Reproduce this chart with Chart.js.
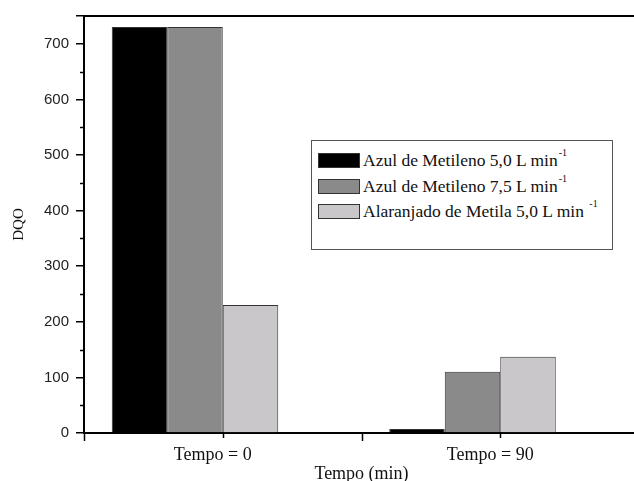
<!DOCTYPE html>
<html>
<head>
<meta charset="utf-8">
<script src="https://cdn.jsdelivr.net/npm/chart.js@4/dist/chart.umd.min.js"></script>
<style>
  html, body { margin: 0; padding: 0; background: #fff; overflow: hidden; }
  #wrap { position: relative; width: 634px; height: 481px; }
  #legend {
    position: absolute; left: 311px; top: 140px; width: 302px; height: 110px;
    border: 1px solid #555; box-sizing: border-box; background: #fff;
    font-family: 'Liberation Serif', 'Times New Roman', serif; font-size: 17.5px; color: #111;
    padding-top: 7px;
  }
  #legend .row { display: flex; align-items: center; height: 25.5px; padding-left: 6px; white-space: nowrap; }
  #legend .sw { width: 42px; height: 15px; border: 1px solid #333; box-sizing: border-box; margin-right: 3px; flex: none; }
  #legend sup { font-size: 10px; position: relative; top: -3px; margin-left: 1px; }
</style>
</head>
<body>
<div id="wrap">
  <canvas id="chart" width="634" height="481"></canvas>
  <div id="legend"></div>
</div>
<script>
const categories = ['Tempo = 0', 'Tempo = 90'];
const seriesNames = ['Azul de Metileno 5,0 L min', 'Azul de Metileno 7,5 L min', 'Alaranjado de Metila 5,0 L min '];
const azul50 = [730, 7];
const azul75 = [730, 110];
const alaranjado50 = [230, 137];
const minorTicks = [50, 150, 250, 350, 450, 550, 650];
const barColors = ['#000000', '#8a8a8a', '#c9c7c9'];

const serif = "'Liberation Serif', 'Times New Roman', serif";
const sans = "'Liberation Sans', Arial, sans-serif";

// the original frame runs a few px past the right edge of the picture
const overflowRight = 5;
const stretchPlugin = {
  id: 'stretch',
  afterLayout(chart) {
    const x = chart.scales.x;
    x.right += overflowRight;
    x.width += overflowRight;
    chart.chartArea.right += overflowRight;
    chart.chartArea.width += overflowRight;
    x.configure();
  }
};

// top frame line, minor y ticks, x ticks at category edges and centres
const framePlugin = {
  id: 'frame',
  afterDraw(chart) {
    const ctx = chart.ctx;
    const a = chart.chartArea;
    const x = chart.scales.x;
    const y = chart.scales.y;
    const vTick = (px, len) => {
      px = Math.round(px) + 0.5;
      ctx.beginPath();
      ctx.moveTo(px, a.bottom);
      ctx.lineTo(px, a.bottom + len);
      ctx.stroke();
    };
    ctx.save();
    ctx.strokeStyle = '#000';
    ctx.lineWidth = 2;
    ctx.beginPath();
    ctx.moveTo(a.left, a.top);
    ctx.lineTo(a.right, a.top);
    ctx.stroke();
    ctx.lineWidth = 1.5;
    categories.forEach((c, i) => {
      vTick(x.getPixelForValue(i), 5);
      vTick(x.getPixelForValue(i - 0.5), 8);
    });
    minorTicks.forEach(v => {
      const py = Math.round(y.getPixelForValue(v)) + 0.5;
      ctx.beginPath();
      ctx.moveTo(a.left - 4, py);
      ctx.lineTo(a.left, py);
      ctx.stroke();
    });
    ctx.restore();
  }
};

const datasets = [azul50, azul75, alaranjado50].map((vals, i) => ({
  label: seriesNames[i],
  data: vals,
  backgroundColor: barColors[i],
  borderColor: '#333',
  borderWidth: 1,
  categoryPercentage: 0.8,
  barPercentage: 1.0
}));
// empty fourth slot so each group sits left of its category tick, as in the source figure
datasets.push({ label: '', data: [null, null], categoryPercentage: 0.8, barPercentage: 1.0 });

new Chart(document.getElementById('chart'), {
  type: 'bar',
  data: { labels: categories, datasets: datasets },
  options: {
    responsive: false,
    animation: false,
    layout: { padding: { top: 13, right: 0, left: 0, bottom: 0 } },
    plugins: { legend: { display: false }, tooltip: { enabled: false } },
    scales: {
      x: {
        grid: { display: false },
        border: { display: true, color: '#000', width: 2 },
        ticks: { color: '#111', font: { family: serif, size: 18 }, padding: 3, labelOffset: -10 },
        title: { display: true, text: 'Tempo (min)', color: '#111', font: { family: serif, size: 18 }, padding: { top: 0, bottom: -4 } },
        afterFit(scale) { scale.height = 48; }
      },
      y: {
        min: 0,
        max: 750,
        ticks: {
          stepSize: 100,
          color: '#222',
          font: { family: sans, size: 15 },
          padding: 7,
          callback: v => (v % 100 === 0 ? v : '')
        },
        grid: { drawOnChartArea: false, drawTicks: true, tickLength: 8, color: '#000', lineWidth: 1.5 },
        border: { display: true, color: '#000', width: 2 },
        title: { display: true, text: 'DQO', color: '#111', font: { family: serif, size: 15 }, padding: { top: 10, bottom: 4 } },
        afterFit(scale) { scale.width = 84; }
      }
    }
  },
  plugins: [stretchPlugin, framePlugin]
});

const legend = document.getElementById('legend');
seriesNames.forEach((name, i) => {
  const row = document.createElement('div');
  row.className = 'row';
  row.innerHTML = '<span class="sw" style="background:' + barColors[i] + '"></span><span>' + name + '<sup>-1</sup></span>';
  legend.appendChild(row);
});
</script>
</body>
</html>
